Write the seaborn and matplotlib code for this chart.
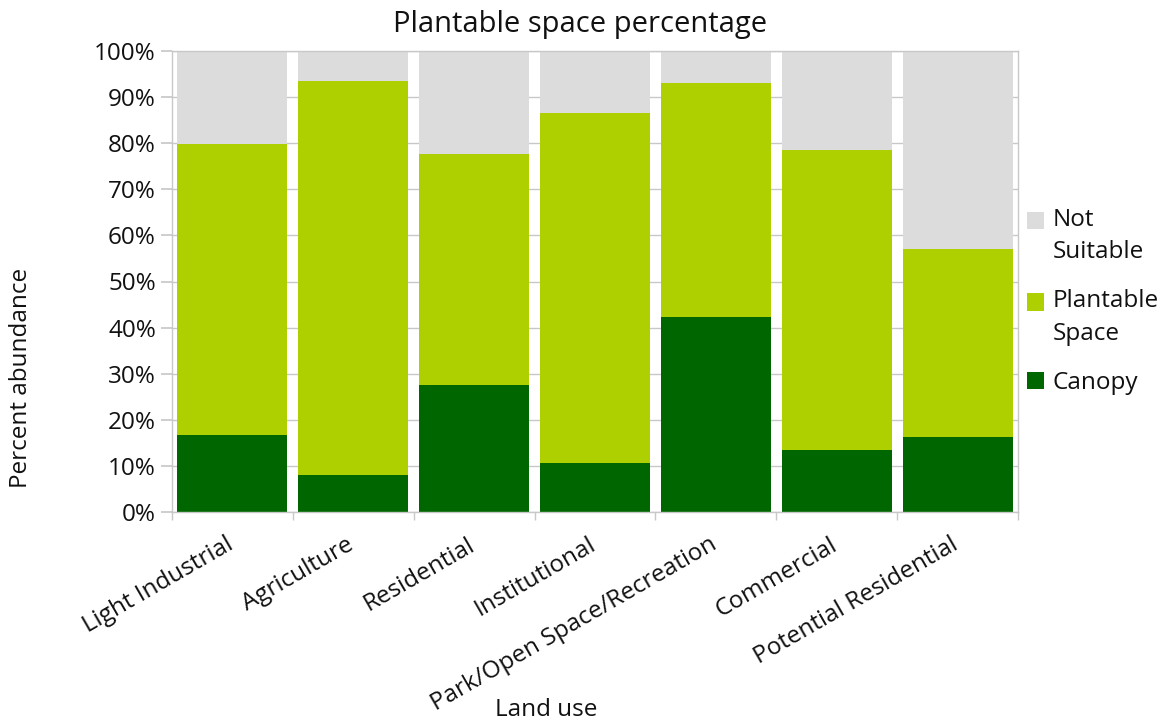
import matplotlib
matplotlib.use("Agg")
import matplotlib.pyplot as plt
from matplotlib.patches import Patch, Rectangle
from matplotlib.legend_handler import HandlerPatch
from matplotlib.ticker import FixedLocator, MultipleLocator, FuncFormatter
from matplotlib.transforms import ScaledTranslation
import numpy as np
import pandas as pd
import seaborn as sns

land_use = ["Light Industrial", "Agriculture", "Residential", "Institutional",
            "Park/Open Space/Recreation", "Commercial", "Potential Residential"]
canopy = [16.6, 8.0, 27.5, 10.6, 42.2, 13.4, 16.3]
plantable = [63.2, 85.4, 50.2, 76.0, 50.9, 65.1, 40.7]
not_suitable = [100 - c - p for c, p in zip(canopy, plantable)]

series_names = ["Not\nSuitable", "Plantable\nSpace", "Canopy"]
series_colors = ["#dcdcdc", "#afd000", "#006600"]

df = pd.DataFrame({"land_use": land_use, "canopy": canopy,
                   "plantable": plantable, "not_suitable": not_suitable})
df["top_canopy"] = df["canopy"]
df["top_plantable"] = df["canopy"] + df["plantable"]
df["top_all"] = df["top_plantable"] + df["not_suitable"]

sns.set_theme(style="white")
plt.rcParams["font.family"] = ["Open Sans", "DejaVu Sans"]
TXT = "#111111"
FS = 17.5

fig = plt.figure(figsize=(11.64, 7.21), dpi=100)
ax = fig.add_axes([172 / 1164, 1 - 512 / 721, 846 / 1164, 461 / 721])

# stacked bars drawn as cumulative totals, tallest first
for col, color in zip(["top_all", "top_plantable", "top_canopy"], series_colors):
    sns.barplot(data=df, x="land_use", y=col, color=color, width=0.91,
                saturation=1, ax=ax, order=land_use, linewidth=0)

ax.set_ylim(0, 100)
ax.set_xlim(-0.5, len(land_use) - 0.5)
ax.yaxis.set_major_locator(MultipleLocator(10))
ax.yaxis.set_major_formatter(FuncFormatter(lambda v, _: f"{v:.0f}%"))
ax.grid(axis="y", color="#c8c8c8", linewidth=1)
ax.set_axisbelow(True)

for s in ax.spines.values():
    s.set_color("#c8c8c8")
    s.set_linewidth(1)

ax.tick_params(axis="y", which="major", length=8, color="#c8c8c8",
               labelsize=FS, pad=3.6, left=True, labelcolor=TXT)
# category boundary ticks on the x axis, labels at centres
ax.xaxis.set_minor_locator(FixedLocator(np.arange(-0.5, len(land_use), 1.0)))
ax.tick_params(axis="x", which="major", length=0, labelsize=FS, pad=15,
               labelcolor=TXT)
ax.tick_params(axis="x", which="minor", length=6, color="#c8c8c8", bottom=True)
ax.set_xticks(np.arange(len(land_use)))
ax.set_xticklabels(land_use, rotation=30, ha="right", rotation_mode="anchor")
for lbl in ax.get_xticklabels():
    lbl.set_transform(lbl.get_transform()
                      + ScaledTranslation(-7 / 100, 0, fig.dpi_scale_trans))

ax.set_title("Plantable space percentage", fontsize=21, color=TXT,
             x=0.482, y=1.041, pad=0, va="baseline")
ax.set_xlabel("Land use", fontsize=FS, color=TXT)
ax.xaxis.set_label_coords(0.442, -0.403)
ax.set_ylabel("Percent abundance", fontsize=FS, color=TXT)
ax.yaxis.set_label_coords(-0.164, 0.29)


def square_at_first_line(lift):
    # legend key aligned with the first line of a wrapped label
    def make(legend, orig_handle, xdescent, ydescent, width, height, fontsize):
        return Rectangle((-xdescent, -ydescent + lift), width, height)
    return HandlerPatch(patch_func=make)


handles = [Patch(facecolor=c, edgecolor="none") for c in series_colors]
handler_map = {h: square_at_first_line(11.5 if "\n" in n else 0.0)
               for h, n in zip(handles, series_names)}
leg = fig.legend(handles, series_names, loc="upper left",
                 bbox_to_anchor=(1005 / 1164, 1 - 186 / 721), frameon=False,
                 fontsize=FS, handlelength=0.72, handleheight=0.72,
                 handletextpad=0.33, labelspacing=1.05, labelcolor=TXT,
                 handler_map=handler_map)
for t in leg.get_texts():
    t.set_linespacing(1.45)

fig.savefig("out.png", dpi=100)
